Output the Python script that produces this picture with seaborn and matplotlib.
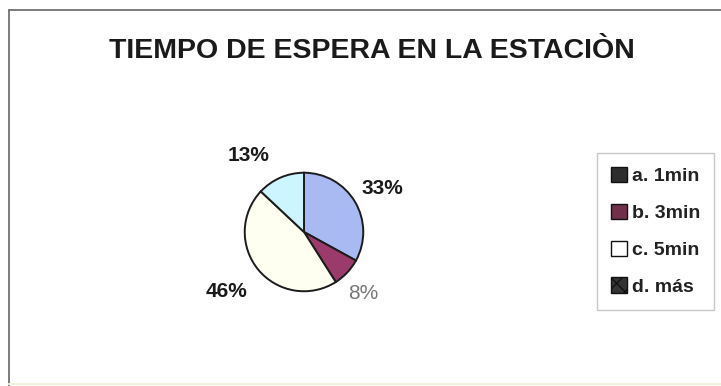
import matplotlib
matplotlib.use("Agg")
import matplotlib.pyplot as plt
from matplotlib.patches import Patch
from matplotlib.lines import Line2D
import seaborn as sns

# Waiting-time shares at the station
categories = ["a. 1min", "b. 3min", "c. 5min", "d. más"]
shares = [33, 8, 46, 13]
wedge_colors = ["#a9baf3", "#9b3b6b", "#fefff0", "#cdf5ff"]
legend_colors = ["#2e2e2e", "#6f3049", "#ffffff", "#333333"]
legend_hatches = [None, None, None, "xx"]
label_colors = ["#1a1a1a", "#777777", "#1a1a1a", "#1a1a1a"]
label_weights = ["bold", "normal", "bold", "bold"]
label_xy = [(1.32, 0.73), (1.00, -1.03), (-1.30, -1.00), (-0.93, 1.29)]

sns.set_style("white")
plt.rcParams["font.family"] = ["Liberation Sans", "DejaVu Sans"]
plt.rcParams["hatch.color"] = "#dddddd"

W, H = 721, 386
fig = plt.figure(figsize=(W / 100, H / 100), dpi=100)
fig.patch.set_facecolor("white")

# chart frame: top and left edges, faint bottom edge
fig.add_artist(Line2D([9 / W, 1.0], [1 - 10 / H, 1 - 10 / H], transform=fig.transFigure,
                      color="#666666", linewidth=1.2))
fig.add_artist(Line2D([9 / W, 9 / W], [1 - 10 / H, 0.0], transform=fig.transFigure,
                      color="#666666", linewidth=1.2))
fig.add_artist(Line2D([9 / W, 1.0], [2 / H, 2 / H], transform=fig.transFigure,
                      color="#f4f1dc", linewidth=1.5))

fig.text(372 / W, 1 - 51 / H, "TIEMPO DE ESPERA EN LA ESTACIÒN",
         ha="center", va="center", fontsize=20.5, fontweight="bold",
         color="#1a1a1a")

# pie axes: square box centred on the pie
cx, cy, half = 304, 232, 80
ax = fig.add_axes([(cx - half) / W, (H - cy - half) / H, 2 * half / W, 2 * half / H])
wedges, _ = ax.pie(shares, colors=wedge_colors, startangle=90, counterclock=False,
                   wedgeprops=dict(edgecolor="#1c1c1c", linewidth=1.4))
ax.set_xlim(-1.35, 1.35)
ax.set_ylim(-1.35, 1.35)
ax.set_aspect("equal")
ax.axis("off")

for val, (x, y), c, w in zip(shares, label_xy, label_colors, label_weights):
    ax.text(x, y, f"{val}%", ha="center", va="center", fontsize=15,
            fontweight=w, color=c)

handles = [Patch(facecolor=fc, edgecolor="#111111", hatch=h, linewidth=1.0)
           for fc, h in zip(legend_colors, legend_hatches)]
leg = fig.legend(handles, categories, loc="upper left",
                 bbox_to_anchor=(597 / W, 1 - 153 / H),
                 frameon=True, fancybox=False, fontsize=14,
                 handlelength=0.85, handleheight=0.85, handletextpad=0.25,
                 labelspacing=0.95, borderpad=0.7, borderaxespad=0)
leg.get_frame().set_edgecolor("#bbbbbb")
leg.get_frame().set_linewidth(1.0)
for t in leg.get_texts():
    t.set_fontweight("bold")
    t.set_color("#222222")

fig.savefig("out.png", dpi=100, facecolor="white")
